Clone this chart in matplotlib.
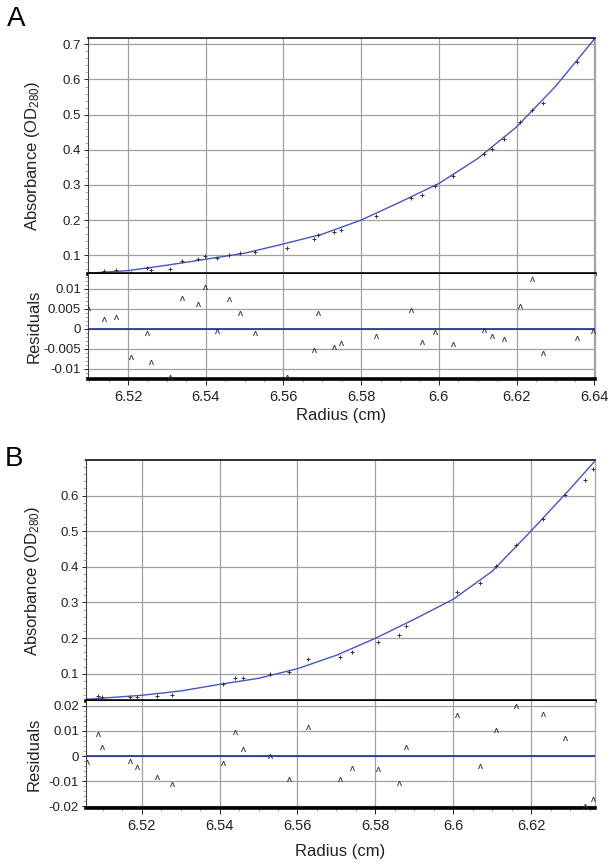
import matplotlib
matplotlib.use('Agg')
import matplotlib.pyplot as plt
from matplotlib.ticker import FixedLocator, AutoMinorLocator, FuncFormatter

plt.rcParams['font.family'] = ['Liberation Sans', 'DejaVu Sans']
plt.rcParams['mathtext.fontset'] = 'custom'
plt.rcParams['mathtext.rm'] = 'Liberation Sans'
plt.rcParams['mathtext.it'] = 'Liberation Sans:italic'

# ---- panel A data ----
radius_a = [6.5098, 6.5139, 6.5169, 6.5208, 6.5249, 6.5258, 6.5309, 6.5338,
            6.5379, 6.5399, 6.5428, 6.5459, 6.5489, 6.5528, 6.5609, 6.5678,
            6.5688, 6.5729, 6.5749, 6.5839, 6.5928, 6.5957, 6.5989, 6.6037,
            6.6117, 6.6138, 6.6167, 6.6209, 6.6239, 6.6267, 6.6356, 6.6397]
abs_a = [0.0525, 0.0545, 0.0573, 0.0488, 0.063, 0.058, 0.062, 0.083,
         0.0895, 0.097, 0.0915, 0.102, 0.106, 0.110, 0.120, 0.1455,
         0.158, 0.165, 0.173, 0.212, 0.263, 0.2706, 0.297, 0.3246,
         0.389, 0.403, 0.430, 0.478, 0.513, 0.532, 0.650, 0.717]
resid_a = [0.0053, 0.0025, 0.0029, -0.0070, -0.0010, -0.0084, -0.0122, 0.0078,
           0.0061, 0.0105, -0.0007, 0.0075, 0.0040, -0.0010, -0.0120, -0.0054,
           0.0040, -0.0046, -0.0035, -0.0018, 0.0046, -0.0033, -0.0009, -0.0038,
           -0.0004, -0.0018, -0.0027, 0.0056, 0.0125, -0.0062, -0.0024, -0.0006]
fit_r_a = [6.5097, 6.52, 6.53, 6.54, 6.55, 6.56, 6.57, 6.58, 6.59, 6.60, 6.61, 6.62, 6.63, 6.6402]
fit_a = [0.0488, 0.0562, 0.0716, 0.0886, 0.1057, 0.132, 0.160, 0.200, 0.251, 0.304, 0.375, 0.465, 0.580, 0.717]

# ---- panel B data ----
radius_b = [6.5059, 6.5089, 6.5099, 6.5169, 6.5188, 6.5239, 6.5278, 6.5409,
            6.5439, 6.5460, 6.5529, 6.5579, 6.5628, 6.5708, 6.5739, 6.5808,
            6.5860, 6.5878, 6.6009, 6.6068, 6.6109, 6.6160, 6.6230, 6.6288,
            6.6339, 6.6359]
abs_b = [0.027, 0.0382, 0.0345, 0.0354, 0.0354, 0.0382, 0.041, 0.0702,
         0.087, 0.087, 0.100, 0.104, 0.140, 0.147, 0.160, 0.190,
         0.2087, 0.233, 0.3295, 0.3556, 0.4017, 0.4615, 0.5346, 0.601,
         0.643, 0.676]
resid_b = [-0.0025, 0.0087, 0.0034, -0.0020, -0.0045, -0.0082, -0.0110, -0.0029,
           0.0095, 0.0029, 0.0001, -0.0091, 0.0114, -0.0090, -0.0049, -0.0053,
           -0.0108, 0.0034, 0.0161, -0.0040, 0.0102, 0.0199, 0.0166, 0.0072,
           -0.0197, -0.0169]
fit_r_b = [6.5057, 6.52, 6.53, 6.54, 6.55, 6.56, 6.57, 6.58, 6.59, 6.60, 6.61, 6.62, 6.63, 6.6364]
fit_b = [0.028, 0.0393, 0.0514, 0.070, 0.087, 0.114, 0.1517, 0.1994, 0.2528, 0.309, 0.3876, 0.501, 0.619, 0.6975]

xticks = [6.52, 6.54, 6.56, 6.58, 6.6, 6.62, 6.64]
yticks_a = [0.1, 0.2, 0.3, 0.4, 0.5, 0.6, 0.7]
yticks_b = [0.1, 0.2, 0.3, 0.4, 0.5, 0.6]
rticks_a = [-0.01, -0.005, 0, 0.005, 0.01]
rticks_b = [-0.02, -0.01, 0, 0.01, 0.02]

FIT_COL = '#4656c0'
ZERO_COL = '#1e2a9a'
GRID_COL = '#a0a0a0'
MK_COL = '#333333'

W, H = 614, 866
fig = plt.figure(figsize=(W / 100, H / 100), dpi=100)

gfmt = FuncFormatter(lambda v, p: '%g' % round(v, 6))


def rect(l, r, t, b):
    return [l / W, 1 - b / H, (r - l) / W, (b - t) / H]


def style(ax):
    ax.grid(True, color=GRID_COL, lw=0.9)
    ax.set_axisbelow(True)
    ax.spines['top'].set_color('#222222')
    ax.spines['top'].set_linewidth(1.3)
    ax.spines['left'].set_color('#444444')
    ax.spines['left'].set_linewidth(0.8)
    ax.spines['right'].set_color('#aaaaaa')
    ax.spines['right'].set_linewidth(1.0)
    ax.tick_params(axis='y', which='major', length=3, width=0.7, labelsize=9.5, pad=2, colors='#222222')
    ax.tick_params(axis='y', which='minor', length=2, width=0.5, color='#888888')
    ax.yaxis.set_minor_locator(AutoMinorLocator(5))


def panel(rc_top, rc_bot, radius, absorb, resid, fit_r, fit, xlim, ylim, rlim, yticks, rticks, lab_x, xpad):
    ax1 = fig.add_axes(rect(*rc_top))
    ax2 = fig.add_axes(rect(*rc_bot), sharex=ax1)
    for ax in (ax1, ax2):
        style(ax)
        ax.xaxis.set_major_locator(FixedLocator(xticks))
    ax1.plot(fit_r, fit, color=FIT_COL, lw=1.0, zorder=3)
    ax1.plot(radius, absorb, ls='none', marker='+', ms=3.5, mew=0.7, color=MK_COL, zorder=4)
    ax1.set_xlim(*xlim)
    ax1.set_ylim(*ylim)
    ax1.yaxis.set_major_locator(FixedLocator(yticks))
    ax1.yaxis.set_major_formatter(gfmt)
    ax1.tick_params(axis='x', which='both', length=0, labelbottom=False)
    ax1.spines['bottom'].set_color('black')
    ax1.spines['bottom'].set_linewidth(2.6)
    ax1.spines['bottom'].set_zorder(5)
    ax1.set_ylabel(r'Absorbance (OD$_{280}$)', fontsize=12, color='#222222')
    ax1.yaxis.set_label_coords(lab_x, 0.5)

    ax2.axhline(0, color=ZERO_COL, lw=1.2, zorder=3)
    ax2.plot(radius, resid, ls='none', marker=r'$\Lambda$', ms=3.5, mew=0.2, color=MK_COL, zorder=4)
    ax2.set_ylim(*rlim)
    ax2.yaxis.set_major_locator(FixedLocator(rticks))
    ax2.yaxis.set_major_formatter(gfmt)
    ax2.spines['top'].set_visible(False)
    ax2.spines['bottom'].set_color('black')
    ax2.spines['bottom'].set_linewidth(2.6)
    ax2.xaxis.set_major_formatter(gfmt)
    ax2.xaxis.set_minor_locator(AutoMinorLocator(4))
    ax2.tick_params(axis='x', which='major', length=4, width=0.7, labelsize=10.5, pad=4, colors='#222222')
    ax2.tick_params(axis='x', which='minor', length=2.5, width=0.5, color='#888888')
    ax2.set_ylabel('Residuals', fontsize=12, color='#222222')
    ax2.yaxis.set_label_coords(lab_x, 0.5)
    ax2.set_xlabel('Radius (cm)', fontsize=12, labelpad=xpad, color='#222222')
    return ax1, ax2


panel((88, 595, 38, 274), (88, 595, 274, 379), radius_a, abs_a, resid_a, fit_r_a, fit_a,
      (6.5097, 6.6402), (0.0466, 0.718), (-0.0126, 0.0137), yticks_a, rticks_a, -0.091, 3)
panel((86, 595, 460, 701), (86, 595, 701, 808), radius_b, abs_b, resid_b, fit_r_b, fit_b,
      (6.5057, 6.6364), (0.0233, 0.700), (-0.0206, 0.0218), yticks_b, rticks_b, -0.087, 8)

fig.text(7 / W, 1 - 6 / H, 'A', fontsize=20, va='top', ha='left')
fig.text(5 / W, 1 - 446 / H, 'B', fontsize=20, va='top', ha='left')

fig.savefig('out.png', dpi=100)
